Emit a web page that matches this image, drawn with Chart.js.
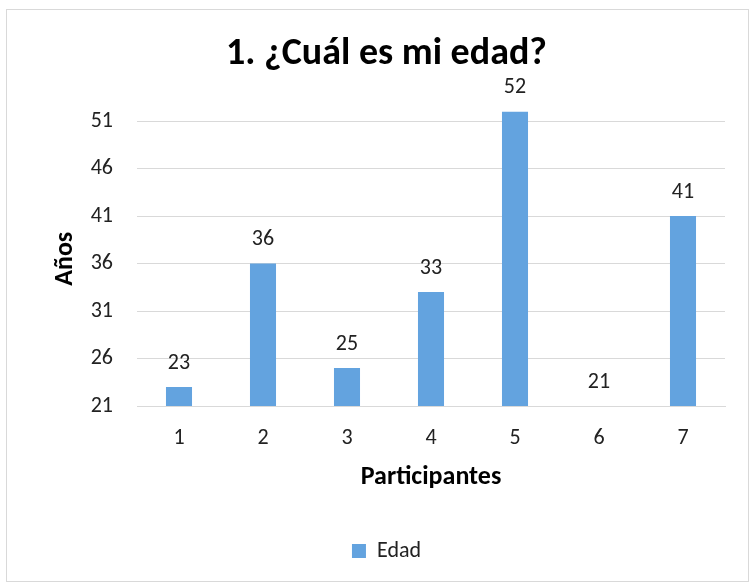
<!DOCTYPE html>
<html>
<head>
<meta charset="utf-8">
<script src="https://cdn.jsdelivr.net/npm/chart.js@4/dist/chart.umd.min.js"></script>
<style>
    html, body { margin: 0; padding: 0; background: #fff; }
    #marco { position: absolute; left: 6px; top: 9px; width: 741px; height: 571px; border: 1px solid #d9d9d9; }
    #zona { position: absolute; left: 0; top: 0; width: 751px; height: 583px; }
</style>
</head>
<body>
<div id="marco"></div>
<div id="zona"><canvas id="chartEdad"></canvas></div>
<script>
// Datos
const participantes = ['1', '2', '3', '4', '5', '6', '7'];
const edades = [23, 36, 25, 33, 52, 21, 41];
const marcasY = [21, 26, 31, 36, 41, 46, 51];
const ejeMin = 21;
const ejeMax = 52;

const fuente = 'Carlito, Calibri, Lato, sans-serif';
const colorTexto = '#222';

// Etiquetas de valor encima de cada barra
const etiquetasValor = {
    id: 'etiquetasValor',
    afterDatasetsDraw(chart) {
        const ctx = chart.ctx;
        const meta = chart.getDatasetMeta(0);
        ctx.save();
        ctx.font = '22px ' + fuente;
        ctx.fillStyle = colorTexto;
        ctx.textAlign = 'center';
        ctx.textBaseline = 'middle';
        meta.data.forEach(function (barra, i) {
            ctx.fillText(edades[i], barra.x, barra.y - 24);
        });
        ctx.restore();
    }
};

const edad = new Chart(
    document.getElementById('chartEdad'), {
        type: 'bar',
        data: {
            labels: participantes,
            datasets: [{
                data: edades,
                label: 'Edad',
                backgroundColor: '#63a3df',
                borderWidth: 0,
                categoryPercentage: 1,
                barPercentage: 0.31
            }]
        },
        plugins: [etiquetasValor],
        options: {
            responsive: true,
            maintainAspectRatio: false,
            animation: false,
            layout: {
                padding: { top: 10, left: 48, right: 26, bottom: 11 }
            },
            plugins: {
                title: {
                    display: true,
                    text: '1. ¿Cuál es mi edad?',
                    color: '#000',
                    font: { family: fuente, size: 38, weight: 'bold' },
                    padding: { top: 22, bottom: 34 }
                },
                legend: {
                    position: 'bottom',
                    labels: {
                        color: colorTexto,
                        font: { family: fuente, size: 22 },
                        boxWidth: 14,
                        boxHeight: 14,
                        padding: 10
                    }
                },
                tooltip: { enabled: false }
            },
            scales: {
                x: {
                    grid: { display: false, drawTicks: false },
                    border: { color: '#d9d9d9' },
                    ticks: {
                        color: colorTexto,
                        font: { family: fuente, size: 22 },
                        padding: 19
                    },
                    title: {
                        display: true,
                        text: 'Participantes',
                        color: '#000',
                        font: { family: fuente, size: 26, weight: 'bold' },
                        padding: { top: 0, bottom: 37 }
                    },
                    afterFit: function (scale) { scale.height = 124; }
                },
                y: {
                    min: ejeMin,
                    max: ejeMax,
                    grid: { color: '#d9d9d9', drawTicks: false },
                    border: { display: false },
                    ticks: {
                        color: colorTexto,
                        font: { family: fuente, size: 22 },
                        padding: 24
                    },
                    title: {
                        display: true,
                        text: 'Años',
                        color: '#000',
                        font: { family: fuente, size: 26, weight: 'bold' },
                        padding: { top: 2, bottom: 0 }
                    },
                    afterBuildTicks: function (scale) {
                        scale.ticks = marcasY.map(v => ({ value: v }));
                    },
                    afterFit: function (scale) { scale.width = 89; }
                }
            }
        }
    }
);
</script>
</body>
</html>
